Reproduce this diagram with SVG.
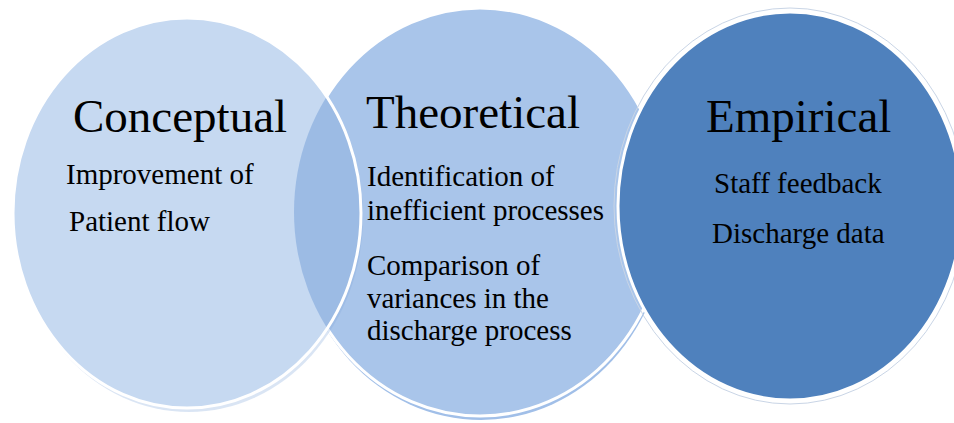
<svg xmlns="http://www.w3.org/2000/svg" width="954" height="423" viewBox="0 0 954 423">
  <style>
    .head { font-family: 'Liberation Serif', 'DejaVu Serif', serif; font-size: 47px; fill: #000; }
    .body { font-family: 'Liberation Serif', 'DejaVu Serif', serif; font-size: 29px; fill: #000; }
    .edge { stroke: #ffffff; stroke-width: 3; }
  </style>
  <defs>
    <clipPath id="leftClip">
      <ellipse cx="187" cy="213" rx="174" ry="195"/>
    </clipPath>
  </defs>
  <rect x="0" y="0" width="954" height="423" fill="#ffffff"/>

  <g id="theoretical">
    <ellipse cx="481" cy="216" rx="186" ry="204" fill="#a1bfe8"/>
    <ellipse cx="480" cy="212" rx="186" ry="204" fill="#a9c5ea" class="edge"/>
  </g>

  <g id="empirical">
    <ellipse cx="790" cy="206" rx="176" ry="198" fill="none" stroke="#c9d5e6" stroke-width="1"/>
    <ellipse cx="790" cy="206" rx="172" ry="194" fill="#4f81bd" class="edge"/>
  </g>

  <g id="conceptual">
    <ellipse cx="189" cy="217" rx="174" ry="195" fill="#86a9d9" opacity="0.3"/>
    <ellipse cx="187" cy="213" rx="174" ry="195" fill="#c6d9f1"/>
    <ellipse cx="480" cy="212" rx="186" ry="204" fill="#9cbbe4" clip-path="url(#leftClip)"/>
    <ellipse cx="187" cy="213" rx="174" ry="195" fill="none" class="edge"/>
  </g>

  <g id="conceptual-text">
    <text class="head" x="73" y="132" font-family="Liberation Serif, serif">Conceptual</text>
    <text class="body" x="66" y="184">Improvement of</text>
    <text class="body" x="69" y="231">Patient flow</text>
  </g>

  <g id="theoretical-text">
    <text class="head" x="366" y="128">Theoretical</text>
    <text class="body" x="367" y="186">Identification of</text>
    <text class="body" x="367" y="220">inefficient processes</text>
    <text class="body" x="367" y="275">Comparison of</text>
    <text class="body" x="367" y="308">variances in the</text>
    <text class="body" x="367" y="340">discharge process</text>
  </g>

  <g id="empirical-text">
    <text class="head" x="706" y="132">Empirical</text>
    <text class="body" x="714" y="193">Staff feedback</text>
    <text class="body" x="712" y="243">Discharge data</text>
  </g>
</svg>
